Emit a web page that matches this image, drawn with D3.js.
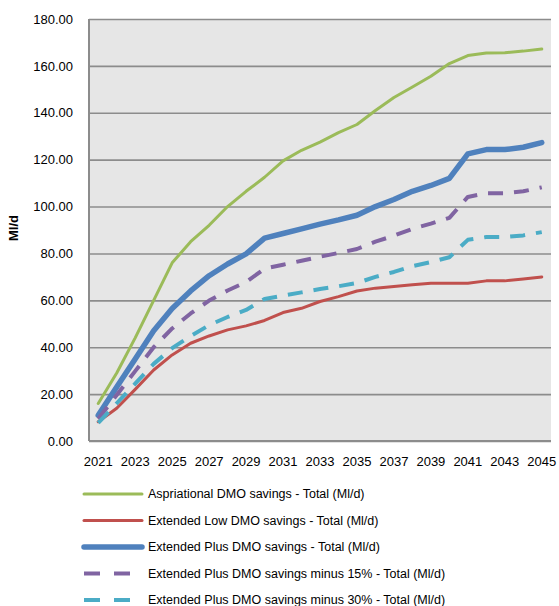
<!DOCTYPE html>
<meta charset="utf-8">
<style>
body { margin: 0; background: #fff; }
text { font-family: "Liberation Sans", Arial, sans-serif; fill: #000; }
.grid line { stroke: #8c8c8c; stroke-width: 1.6px; }
.grid path { display: none; }
</style>
<body>
<script src="https://d3js.org/d3.v7.min.js"></script>
<script>

// years on the category axis
var years = d3.range(2021, 2046);
var yearLabels = years.filter(function(y) { return (y - 2021) % 2 === 0; });
var yTicks = [0, 20, 40, 60, 80, 100, 120, 140, 160, 180];

var aspirational = [16, 29, 44, 60, 76, 85, 92, 100, 106.5, 112.5, 119.5, 124, 127.5, 131.5, 135, 141, 146.5, 151, 155.6, 161, 164.4, 165.5, 165.6, 166.3, 167.2];
var extLow = [8.2, 14, 22, 30.3, 36.7, 41.7, 44.8, 47.4, 49.1, 51.4, 54.8, 56.6, 59.5, 61.6, 64, 65.2, 65.9, 66.6, 67.3, 67.3, 67.3, 68.3, 68.3, 69.1, 70];
var extPlus = [11, 23, 35, 47, 56.5, 64, 70.5, 75.5, 79.8, 86.5, 88.5, 90.5, 92.5, 94.3, 96.3, 100, 103, 106.5, 109, 112, 122.5, 124.3, 124.3, 125.3, 127.3];
var extPlus15 = [9.4, 19.6, 29.8, 40, 48, 54.4, 59.9, 64.2, 67.8, 73.5, 75.2, 76.9, 78.6, 80.2, 81.9, 85, 87.6, 90.5, 92.7, 95.2, 104.1, 105.7, 105.7, 106.5, 108.2];
var extPlus30 = [7.7, 16.1, 24.5, 32.9, 39.6, 44.8, 49.4, 52.9, 55.9, 60.6, 62, 63.4, 64.8, 66, 67.4, 70, 72.1, 74.6, 76.3, 78.4, 85.8, 87, 87, 87.7, 89.1];

var seriesNames = [
  "Aspriational DMO savings - Total (Ml/d)",
  "Extended Low DMO savings - Total (Ml/d)",
  "Extended Plus DMO savings - Total (Ml/d)",
  "Extended Plus DMO savings minus 15% - Total (Ml/d)",
  "Extended Plus DMO savings minus 30% - Total (Ml/d)"
];

var series = [
  { name: seriesNames[0], values: aspirational, color: "#9bbb59", width: 3, dash: null },
  { name: seriesNames[1], values: extLow, color: "#c0504d", width: 3, dash: null },
  { name: seriesNames[2], values: extPlus, color: "#4f81bd", width: 5.5, dash: null },
  { name: seriesNames[3], values: extPlus15, color: "#8064a2", width: 4, dash: "15,11" },
  { name: seriesNames[4], values: extPlus30, color: "#4bacc6", width: 4, dash: "15,11" }
];

var margin = {top: 19, right: 8, bottom: 165, left: 89},
    width = 559 - margin.left - margin.right,
    height = 606 - margin.top - margin.bottom;

var svg = d3.select("body").append("svg")
    .attr("width", 559)
    .attr("height", 606);

var g = svg.append("g")
    .attr("transform", "translate(" + margin.left + "," + margin.top + ")");

var x = d3.scaleBand().domain(years).range([0, width]).padding(0);
var y = d3.scaleLinear().domain([0, 180]).range([height, 0]);

function cx(i) { return x(years[i]) + x.bandwidth() / 2; }

// plot background
g.append("rect")
  .attr("width", width)
  .attr("height", height)
  .attr("fill", "#e6e6e6");

// gridlines
g.append("g")
  .attr("class", "grid")
  .call(d3.axisLeft(y).tickValues(yTicks).tickSize(-width).tickFormat(""));

// left and bottom axis lines
g.append("line")
  .attr("x1", 0).attr("x2", 0).attr("y1", 0).attr("y2", height)
  .attr("stroke", "#8c8c8c").attr("stroke-width", 2);
g.append("line")
  .attr("x1", 0).attr("x2", width).attr("y1", height).attr("y2", height)
  .attr("stroke", "#8c8c8c").attr("stroke-width", 2);

// y axis labels
var yAxis = g.append("g")
  .call(d3.axisLeft(y).tickValues(yTicks).tickSize(0).tickPadding(16).tickFormat(d3.format(".2f")));
yAxis.select(".domain").remove();
yAxis.selectAll("text").style("font-size", "13px");

// x axis labels
var xAxis = g.append("g")
  .attr("transform", "translate(0," + height + ")")
  .call(d3.axisBottom(x).tickValues(yearLabels).tickSize(0).tickPadding(16));
xAxis.select(".domain").remove();
xAxis.selectAll("text").style("font-size", "13px");

// y title
g.append("text")
  .attr("transform", "translate(" + (-71) + "," + (height / 2 - 2) + ") rotate(-90)")
  .attr("text-anchor", "middle")
  .style("font-size", "13px")
  .style("font-weight", "bold")
  .text("Ml/d");

// lines
var line = d3.line()
  .x(function(d, i) { return cx(i); })
  .y(function(d) { return y(d); });

g.selectAll(".series")
  .data(series)
  .enter().append("path")
  .attr("class", "series")
  .attr("fill", "none")
  .attr("stroke", function(d) { return d.color; })
  .attr("stroke-width", function(d) { return d.width; })
  .attr("stroke-dasharray", function(d) { return d.dash; })
  .attr("stroke-linejoin", "round")
  .attr("stroke-linecap", function(d) { return d.dash ? "butt" : "round"; })
  .attr("d", function(d) { return line(d.values); });

// legend
var legend = svg.selectAll(".legend")
  .data(series)
  .enter().append("g")
  .attr("class", "legend")
  .attr("transform", function(d, i) { return "translate(84," + (494 + i * 26.5) + ")"; });

legend.append("line")
  .attr("x1", 0).attr("x2", 58)
  .attr("stroke", function(d) { return d.color; })
  .attr("stroke-width", function(d) { return d.width; })
  .attr("stroke-dasharray", function(d) { return d.dash ? "16,14" : null; })
  .attr("stroke-linecap", function(d) { return d.dash ? "butt" : "round"; });

legend.append("text")
  .attr("x", 64)
  .attr("dy", "0.35em")
  .style("font-size", "12.5px")
  .text(function(d) { return d.name; });

</script>
</body>
